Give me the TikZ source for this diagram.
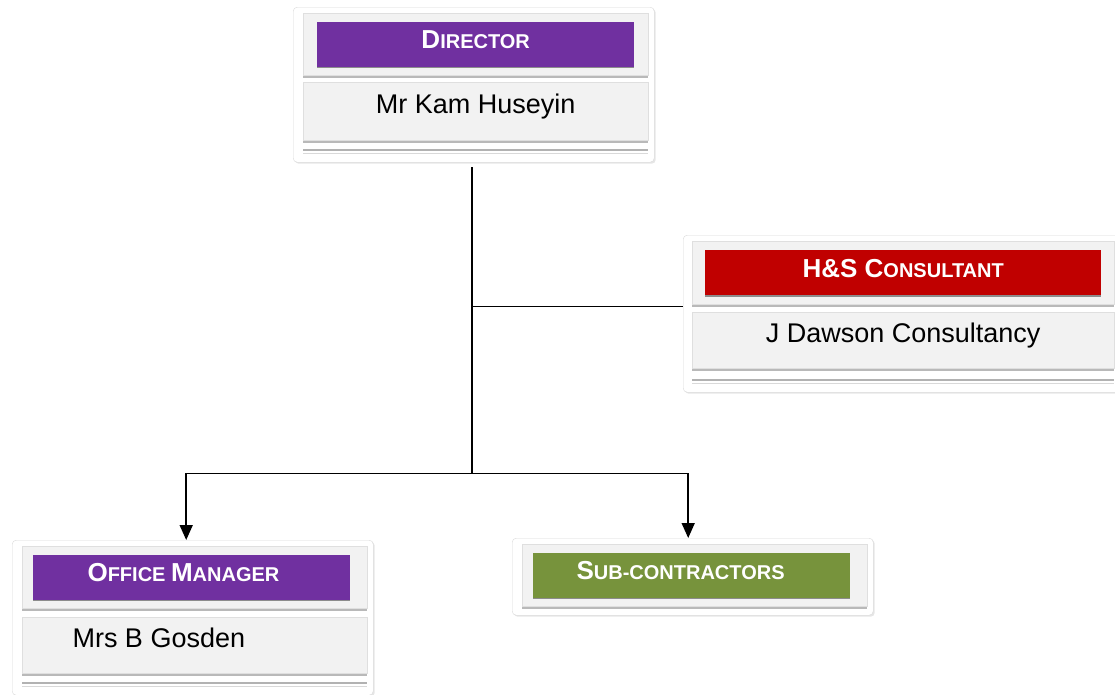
\documentclass[tikz,border=0pt]{standalone}
\usepackage{fontspec}
\setmainfont{Liberation Sans}
\usetikzlibrary{shadows,arrows.meta,positioning}

\definecolor{hdpurple}{HTML}{7030A0}
\definecolor{hdred}{HTML}{C00000}
\definecolor{hdgreen}{HTML}{77933C}
\definecolor{panelgray}{HTML}{F2F2F2}

% big first letter of a small-caps word
\newcommand{\capl}[1]{{\fontsize{26}{30}\selectfont #1}}

\tikzset{
  card/.style={draw=gray!30, fill=white, rounded corners=4pt, anchor=north west,
    drop shadow={opacity=0.2, shadow xshift=1.5pt, shadow yshift=-1.5pt}},
  panel/.style={fill=panelgray, draw=gray!25, anchor=north west, inner sep=0pt,
    drop shadow={opacity=1, fill=gray!55, shadow xshift=0pt, shadow yshift=-3pt}},
  bar/.style={draw=none, minimum height=45, inner sep=0pt,
    drop shadow={opacity=1, fill=black!45, shadow xshift=0pt, shadow yshift=-1.5pt}},
  hdtext/.style={text=white, font=\bfseries\fontsize{20}{24}\selectfont,
    text height=19pt, text depth=10pt},
  who/.style={font=\fontsize{27}{32}\selectfont, text height=20pt, text depth=16pt},
  rule/.style={gray!60, line width=2pt},
  rulelight/.style={gray!30, line width=1.5pt},
  link/.style={line width=1.6pt},
  tip/.style={link, -{Triangle[width=13pt,length=15pt]}}
}

\begin{document}
\begin{tikzpicture}[x=1pt, y=-1pt]
    \useasboundingbox (0,0) rectangle (1115,694);
    \clip (0,0) rectangle (1115,694);

    % Director
    \node[card, minimum width=361, minimum height=155] (dir) at (293,7) {};
    \node[panel, minimum width=345, minimum height=62] (dirP) at (303,13) {};
    \node[bar, hdtext, fill=hdpurple, minimum width=317] (dirT) at (dirP) {\capl{D}IRECTOR};
    \node[panel, who, minimum width=345, minimum height=58] (dirN) at (303,82) {Mr Kam Huseyin};
    \draw[rule] ([yshift=-10pt]dirN.south west) -- ([yshift=-10pt]dirN.south east);
    \draw[rulelight] ([yshift=-13pt]dirN.south west) -- ([yshift=-13pt]dirN.south east);

    % H&S consultant
    \node[card, minimum width=440, minimum height=157] (hs) at (683,235) {};
    \node[panel, minimum width=422, minimum height=63] (hsP) at (692,241) {};
    \node[bar, hdtext, fill=hdred, minimum width=396] (hsT) at (hsP) {\capl{H\&S C}ONSULTANT};
    \node[panel, who, minimum width=422, minimum height=56] (hsN) at (692,312) {J Dawson Consultancy};
    \draw[rule] ([yshift=-12pt]hsN.south west) -- ([yshift=-12pt]hsN.south east);
    \draw[rulelight] ([yshift=-15pt]hsN.south west) -- ([yshift=-15pt]hsN.south east);

    % Office manager
    \node[card, minimum width=361, minimum height=155] (om) at (12,540) {};
    \node[panel, minimum width=345, minimum height=62] (omP) at (22,546) {};
    \node[bar, fill=hdpurple, minimum width=317] (omT) at ([xshift=-3pt]omP.center) {};
    \node[hdtext, anchor=west] (omL) at ([xshift=51pt]omT.west) {\capl{O}FFICE \capl{M}ANAGER};
    \node[panel, minimum width=345, minimum height=56] (omN) at (22,617) {};
    \node[who, anchor=west] (omW) at ([xshift=47pt]omN.west) {Mrs B Gosden};
    \draw[rule] ([yshift=-10pt]omN.south west) -- ([yshift=-10pt]omN.south east);
    \draw[rulelight] ([yshift=-13pt]omN.south west) -- ([yshift=-13pt]omN.south east);

    % Sub-contractors
    \node[card, minimum width=361, minimum height=77] (sub) at (512,538) {};
    \node[panel, minimum width=345, minimum height=62] (subP) at (522,544) {};
    \node[bar, fill=hdgreen, minimum width=317] (subT) at ([xshift=-3pt]subP.center) {};
    \node[hdtext, anchor=west] (subL) at ([xshift=40pt]subT.west) {\capl{S}UB-CONTRACTORS};

    % connectors
    \coordinate (top) at ([xshift=-1.5pt,yshift=-5pt]dir.south);
    \path (top) ++(0,139) coordinate (hsjoin);
    \path (top) ++(0,306) coordinate (split);
    \draw[link] (top) -- (split);
    \draw[link] (hsjoin) -- (hsjoin -| hs.west);
    \draw[tip] (split) -| ([xshift=-6.5pt]om.north);
    \draw[tip] (split) -| ([xshift=-4.5pt]sub.north);
\end{tikzpicture}
\end{document}
